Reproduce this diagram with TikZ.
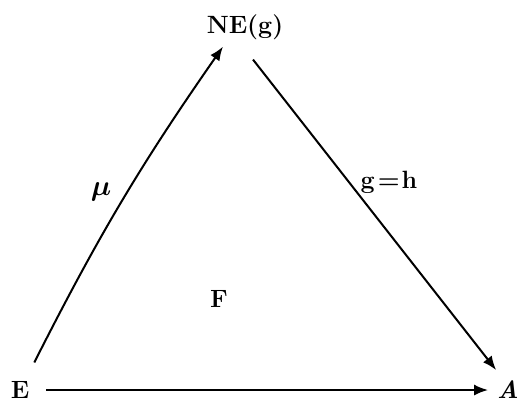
\documentclass[tikz,border=0pt]{standalone}
\usepackage{amsmath}
\usepackage{bm}
\usepackage{tikz}
\usetikzlibrary{arrows.meta}

\begin{document}
\begin{tikzpicture}[x=0.5pt,y=-0.5pt,
    lbl/.style={font=\fontsize{12.5}{15}\selectfont\bfseries},
    arr/.style={line width=1pt,-{Latex[length=7pt,width=5.5pt]}}]
        \useasboundingbox (0,0) rectangle (517,403);
        \node[lbl] (NE) at (245,27) {NE(g)};
        \node[lbl] (E) at (20,390) {E};
        \node[lbl] (A) at (508,390) {\textit{A}};
        \node[lbl] (F) at (219,299) {F};
        \node[lbl,font=\fontsize{15}{17}\selectfont] (mu) at (101,192) {$\bm{\mu}$};
        \node[lbl] (gh) at (389,182) {g\kern1.5pt=\kern1pt h};
        \draw[arr] ([shift={(-1pt,6pt)}]E.north east) to[bend left=4] ([xshift=-11pt]NE.south);
        \draw[arr] ([shift={(4pt,-6.5pt)}]NE.south) -- ([shift={(3pt,2pt)}]A.north west);
        \draw[arr,shorten <=5pt,shorten >=1pt] (E) -- (A);
    \end{tikzpicture}
\end{document}
